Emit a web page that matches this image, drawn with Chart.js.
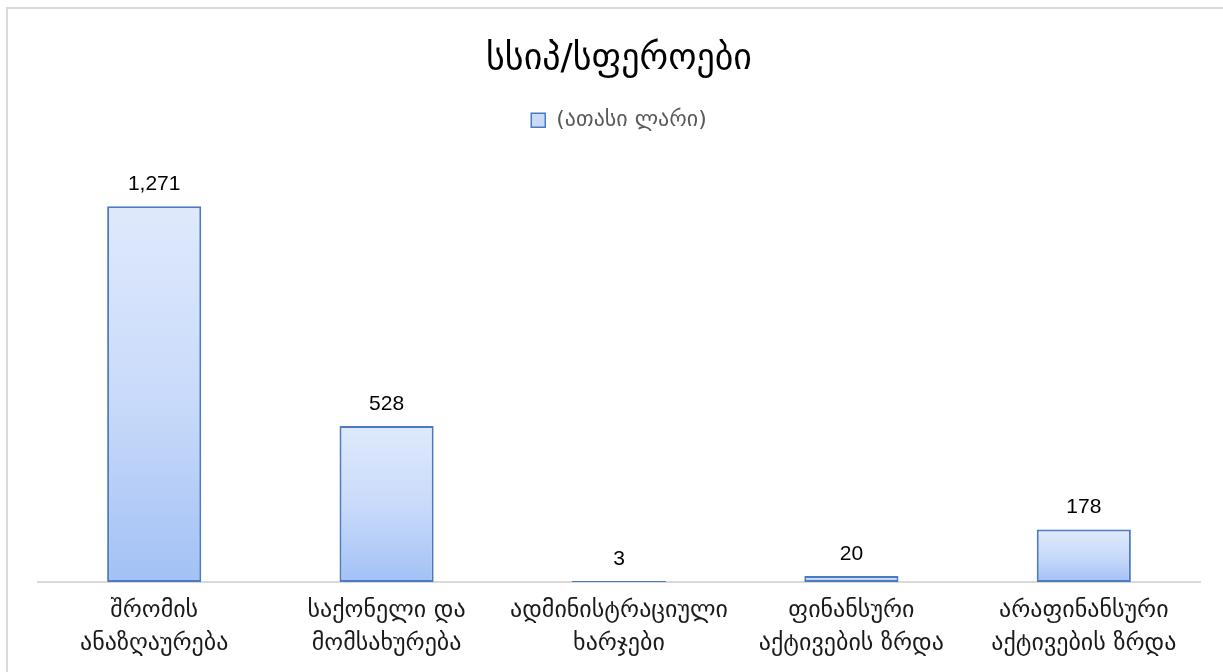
<!DOCTYPE html>
<html>
<head>
<meta charset="utf-8">
<script src="https://cdn.jsdelivr.net/npm/chart.js@4.4.1/dist/chart.umd.min.js"></script>
<style>
  html, body { margin: 0; padding: 0; background: #fff; }
  #wrap { position: relative; width: 1223px; height: 672px; overflow: hidden; }
  #frame { position: absolute; left: 6px; top: 7px; width: 1400px; height: 900px; border: 2px solid #d9d9d9; box-sizing: border-box; }
  canvas { position: absolute; left: 0; top: 0; }
</style>
</head>
<body>
<div id="wrap">
  <div id="frame"></div>
  <canvas id="c" width="1223" height="672"></canvas>
</div>
<script>
const titleText = 'სსიპ/სფეროები';
const seriesName = '(ათასი ლარი)';
const categories = [
  ['შრომის', 'ანაზღაურება'],
  ['საქონელი და', 'მომსახურება'],
  ['ადმინისტრაციული', 'ხარჯები'],
  ['ფინანსური', 'აქტივების ზრდა'],
  ['არაფინანსური', 'აქტივების ზრდა']
];
const values = [1271, 528, 3, 20, 178];
const yMax = 1400;

const GEO = '"DejaVu Sans", "Noto Sans", sans-serif';

function barGradient(ctx) {
  const chart = ctx.chart;
  const area = chart.chartArea;
  if (!area || ctx.raw === undefined) return '#c5d8f8';
  const y = chart.scales.y;
  const top = y.getPixelForValue(ctx.raw);
  const base = y.getPixelForValue(0);
  const g = chart.ctx.createLinearGradient(0, top, 0, Math.max(base, top + 1));
  g.addColorStop(0, '#dfe9fc');
  g.addColorStop(0.5, '#c9dbfa');
  g.addColorStop(1, '#a3c1f5');
  return g;
}

const legendSpacer = {
  id: 'legendSpacer',
  beforeInit(chart) {
    const origFit = chart.legend.fit;
    chart.legend.fit = function () {
      origFit.call(this);
      this.height += 27;
    };
  }
};

const valueLabels = {
  id: 'valueLabels',
  afterDatasetsDraw(chart) {
    const ctx = chart.ctx;
    const meta = chart.getDatasetMeta(0);
    ctx.save();
    ctx.font = '21px "Liberation Sans", Arial, sans-serif';
    ctx.fillStyle = '#000';
    ctx.textAlign = 'center';
    ctx.textBaseline = 'middle';
    meta.data.forEach((bar, i) => {
      const v = chart.data.datasets[0].data[i];
      ctx.fillText(v.toLocaleString('en-US'), bar.x, bar.y - 22);
    });
    ctx.restore();
  }
};

new Chart(document.getElementById('c'), {
  type: 'bar',
  data: {
    labels: categories,
    datasets: [{
      label: seriesName,
      data: values,
      backgroundColor: barGradient,
      borderColor: '#4a7bc2',
      borderWidth: 2,
      borderSkipped: false,
      barPercentage: 0.405,
      categoryPercentage: 1
    }]
  },
  options: {
    responsive: false,
    animation: false,
    devicePixelRatio: 1,
    layout: { padding: { left: 38, right: 23, top: 0, bottom: 0 } },
    plugins: {
      title: {
        display: true,
        text: titleText,
        color: '#000',
        font: { family: GEO, size: 36, weight: 'normal', lineHeight: 1.2 },
        padding: { top: 38, bottom: 18 }
      },
      legend: {
        display: true,
        labels: {
          color: '#595959',
          font: { family: GEO, size: 22 },
          boxWidth: 14,
          boxHeight: 14,
          padding: 10,
          generateLabels(chart) {
            return [{
              text: seriesName,
              fillStyle: '#c9dbfa',
              strokeStyle: '#4a7bc2',
              lineWidth: 1.5,
              fontColor: '#595959',
              datasetIndex: 0
            }];
          }
        }
      },
      tooltip: { enabled: false }
    },
    scales: {
      x: {
        grid: { display: false, drawTicks: false },
        border: { display: true, color: '#d9d9d9', width: 2 },
        ticks: {
          color: '#1a1a1a',
          font: { family: GEO, size: 24, lineHeight: 1.375 },
          padding: 12,
          maxRotation: 0,
          autoSkip: false
        }
      },
      y: {
        display: false,
        min: 0,
        max: yMax
      }
    }
  },
  plugins: [legendSpacer, valueLabels]
});
</script>
</body>
</html>
